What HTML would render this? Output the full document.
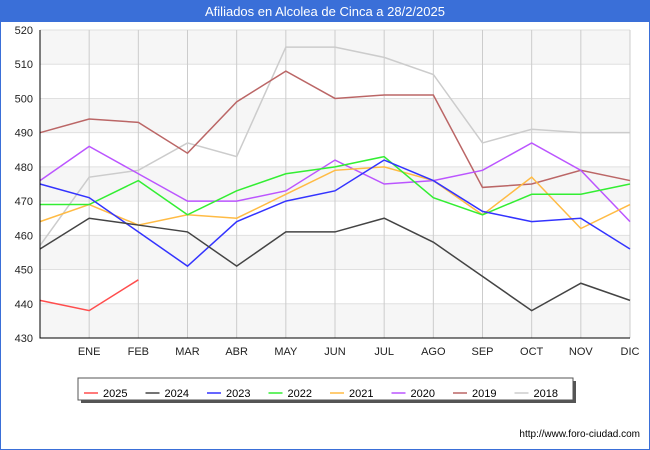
<!DOCTYPE html>
<html><head><meta charset="utf-8"><style>
body{margin:0;width:650px;height:450px;overflow:hidden;background:#fff;font-family:"Liberation Sans",sans-serif}
</style></head><body>
<svg width="650" height="450" style="position:absolute;left:0;top:0">
<rect x="0" y="0" width="650" height="450" fill="#fff" stroke="#3a6fd8" stroke-width="2"/>
<rect x="0" y="0" width="650" height="22" fill="#3a6fd8"/>
<text x="325" y="16" fill="#fff" font-size="13" text-anchor="middle">Afiliados en Alcolea de Cinca a 28/2/2025</text>
<g id="grid"></g><g id="series"></g><g id="axes"></g>
<text x="640" y="437" font-size="10" text-anchor="end" fill="#000">http://www.foro-ciudad.com</text>
<g id="legend"></g>
</svg>
<script>
const months=["","ENE","FEB","MAR","ABR","MAY","JUN","JUL","AGO","SEP","OCT","NOV","DIC"];
const yTicks=[430,440,450,460,470,480,490,500,510,520];
const years=["2025","2024","2023","2022","2021","2020","2019","2018"];
const colors=["#ff4d4d","#444444","#3333ff","#33ee33","#ffbb44","#bb55ff","#bb6666","#cccccc"];
const s2025=[441,438,447];
const s2024=[456,465,463,461,451,461,461,465,458,448,438,446,441];
const s2023=[475,471,461,451,464,470,473,482,476,467,464,465,456];
const s2022=[469,469,476,466,473,478,480,483,471,466,472,472,475];
const s2021=[464,469,463,466,465,472,479,480,476,466,477,462,469];
const s2020=[476,486,478,470,470,473,482,475,476,479,487,479,464];
const s2019=[490,494,493,484,499,508,500,501,501,474,475,479,476];
const s2018=[457,477,479,487,483,515,515,512,507,487,491,490,490];
const allSeries=[s2025,s2024,s2023,s2022,s2021,s2020,s2019,s2018];
const L=40,R=630,T=30,B=338,ymin=430,ymax=520;
const X=i=>L+i*(R-L)/12, Y=v=>B-(v-ymin)*(B-T)/(ymax-ymin);
const NS="http://www.w3.org/2000/svg";
function mk(p,t,a){const e=document.createElementNS(NS,t);for(const k in a)e.setAttribute(k,a[k]);p.appendChild(e);return e;}
const g=document.getElementById('grid'),ax=document.getElementById('axes'),sg=document.getElementById('series'),lg=document.getElementById('legend');
for(let i=0;i<yTicks.length-1;i++){if((yTicks.length-2-i)%2===0){const r=mk(g,'rect',{x:L,y:Y(yTicks[i+1]),width:R-L,height:Y(yTicks[i])-Y(yTicks[i+1]),fill:'#f6f6f6'});

}}
yTicks.forEach(v=>{const l=mk(g,'line',{x1:L,x2:R,y1:Y(v),y2:Y(v),stroke:'#e0e0e0'});


const t=mk(ax,'text',{x:L-7,y:Y(v)+4,'font-size':11,'text-anchor':'end',fill:'#222'});t.textContent=v;

});
months.forEach((m,i)=>{if(i>0){const l=mk(g,'line',{x1:X(i),x2:X(i),y1:T,y2:B,stroke:'#cccccc'});


const t=mk(ax,'text',{x:X(i),y:B+17,'font-size':11,'text-anchor':'middle',fill:'#222'});t.textContent=m;

}});
const a1=mk(ax,'polyline',{points:`${L},${T} ${L},${B} ${R},${B}`,fill:'none',stroke:'#000'});


for(let k=allSeries.length-1;k>=0;k--){const p=mk(sg,'polyline',{points:allSeries[k].map((v,i)=>X(i)+','+Y(v)).join(' '),fill:'none',stroke:colors[k],'stroke-width':1.5});

}
const sh=mk(lg,'rect',{x:81,y:381,width:495,height:22,fill:'#555'});


const bx=mk(lg,'rect',{x:78,y:378,width:495,height:22,fill:'#fff',stroke:'#555'});


years.forEach((y,k)=>{const x0=84+k*61.5;
const l=mk(lg,'line',{x1:x0,x2:x0+14,y1:393,y2:393,stroke:colors[k],'stroke-width':1.5});


const t=mk(lg,'text',{x:x0+19,y:397,'font-size':11,fill:'#000'});t.textContent=y;

});
</script>
</body></html>
